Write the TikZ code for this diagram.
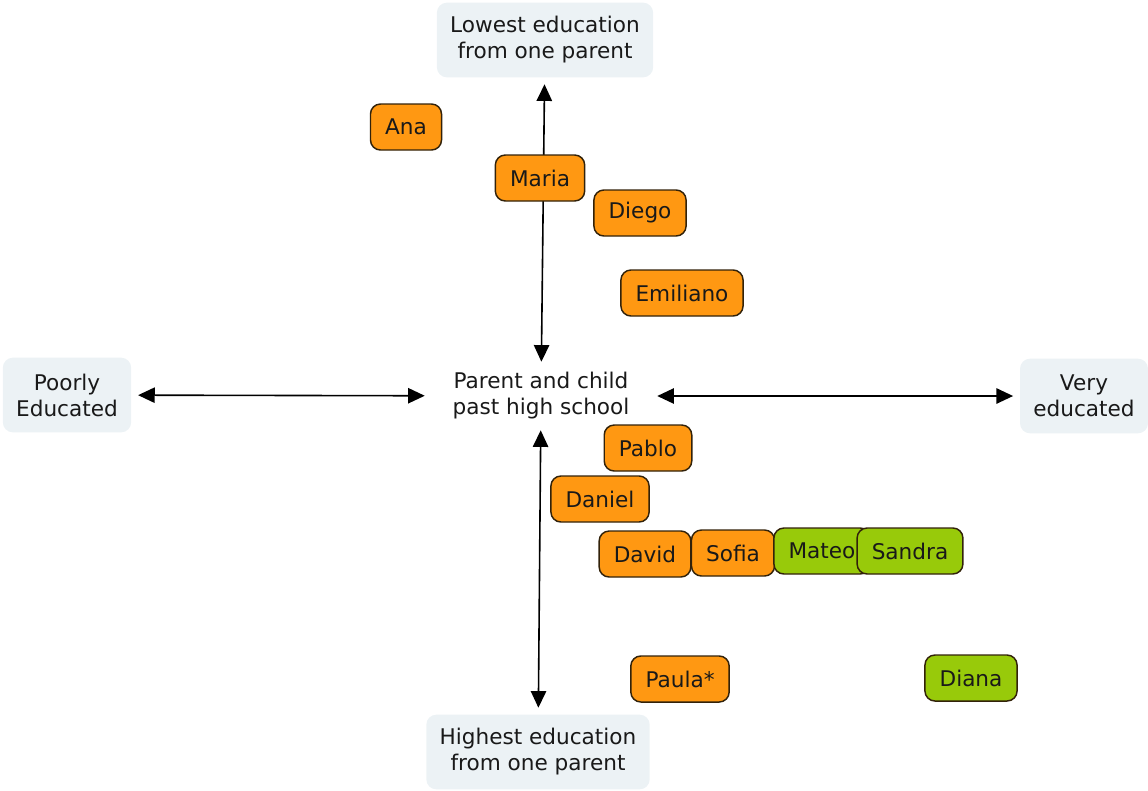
\documentclass[tikz,border=0pt]{standalone}
\usepackage{fontspec}
\setmainfont{DejaVu Sans}
\usetikzlibrary{arrows.meta, positioning}
\definecolor{kidorange}{RGB}{255,152,18}
\definecolor{kidgreen}{RGB}{152,202,10}
\definecolor{kidedge}{RGB}{50,34,10}
\definecolor{axisfill}{RGB}{236,242,245}
\definecolor{inktext}{RGB}{25,25,25}

\begin{document}
\begin{tikzpicture}[
    x=0.75pt, y=-0.75pt,
    font=\fontsize{16.2}{19.5}\selectfont,
    text=inktext,
    axis/.style={fill=axisfill, rounded corners=7.5pt, align=center, minimum height=56pt, inner xsep=10pt},
    hub/.style={align=center, minimum width=174pt, minimum height=51pt, inner sep=0pt},
    kid/.style={draw=kidedge, line width=1.1pt, rounded corners=7.5pt, minimum height=34.5pt, inner xsep=11pt, fill=kidorange},
    kidg/.style={kid, fill=kidgreen},
    arrow/.style={{Triangle[length=12.5pt, width=11.5pt]}-{Triangle[length=12.5pt, width=11.5pt]}, line width=1.2pt, shorten >=5pt}
]
\useasboundingbox (0,0) rectangle (1148,790);

\node[axis] (low) at (545,40) {Lowest education\\from one parent};
\node[axis] (high) at (538,752) {Highest education\\from one parent};
\node[axis] (poor) at (67,395) {Poorly\\Educated};
\node[axis] (very) at (1084,396) {Very\\educated};
\node[hub] (hub) at (541,396) {Parent and child\\past high school};

\draw[arrow] (hub) -- (low);
\draw[arrow] (hub) -- (high);
\draw[arrow] (hub) -- (poor);
\draw[arrow] (hub) -- (very);

\node[kid] (ana) at (406,127) {Ana};
\node[kid] (maria) at (540,178) {Maria};
\node[kid] (diego) at (640,213) {Diego};
\node[kid] (emiliano) at (682,293) {Emiliano};
\node[kid] (pablo) at (648,448) {Pablo};
\node[kid] (daniel) at (600,499) {Daniel};
\node[kid] (david) at (645,554) {David};
\node[kid] (sofia) at (733,553) {Sofia};
\node[kidg] (mateo) at (822,551) {Mateo};
\node[kidg] (sandra) at (910,551) {Sandra};
\node[kid] (paula) at (680,679) {Paula*};
\node[kidg] (diana) at (971,678) {Diana};
\end{tikzpicture}
\end{document}
